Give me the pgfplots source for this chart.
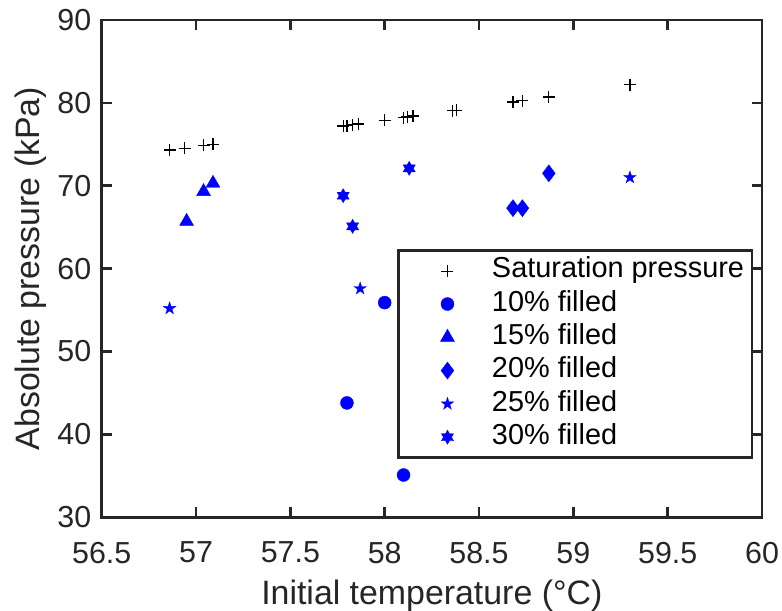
\documentclass[border=0pt]{standalone}
\usepackage{pgfplots}
\pgfplotsset{compat=1.18}
\usepackage{fontspec}
\setmainfont{Liberation Sans}
\definecolor{axgray}{RGB}{38,38,38}
\definecolor{mblue}{RGB}{0,0,255}

\pgfdeclareplotmark{pentagram}{%
  \pgfpathmoveto{\pgfpointpolar{90}{\pgfplotmarksize}}%
  \pgfpathlineto{\pgfpointpolar{126}{0.382\pgfplotmarksize}}%
  \pgfpathlineto{\pgfpointpolar{162}{\pgfplotmarksize}}%
  \pgfpathlineto{\pgfpointpolar{198}{0.382\pgfplotmarksize}}%
  \pgfpathlineto{\pgfpointpolar{234}{\pgfplotmarksize}}%
  \pgfpathlineto{\pgfpointpolar{270}{0.382\pgfplotmarksize}}%
  \pgfpathlineto{\pgfpointpolar{306}{\pgfplotmarksize}}%
  \pgfpathlineto{\pgfpointpolar{342}{0.382\pgfplotmarksize}}%
  \pgfpathlineto{\pgfpointpolar{18}{\pgfplotmarksize}}%
  \pgfpathlineto{\pgfpointpolar{54}{0.382\pgfplotmarksize}}%
  \pgfpathclose
  \pgfusepathqfillstroke
}
\pgfdeclareplotmark{hexagram}{%
  \pgfpathmoveto{\pgfpointpolar{90}{\pgfplotmarksize}}%
  \pgfpathlineto{\pgfpointpolar{120}{0.577\pgfplotmarksize}}%
  \pgfpathlineto{\pgfpointpolar{150}{\pgfplotmarksize}}%
  \pgfpathlineto{\pgfpointpolar{180}{0.577\pgfplotmarksize}}%
  \pgfpathlineto{\pgfpointpolar{210}{\pgfplotmarksize}}%
  \pgfpathlineto{\pgfpointpolar{240}{0.577\pgfplotmarksize}}%
  \pgfpathlineto{\pgfpointpolar{270}{\pgfplotmarksize}}%
  \pgfpathlineto{\pgfpointpolar{300}{0.577\pgfplotmarksize}}%
  \pgfpathlineto{\pgfpointpolar{330}{\pgfplotmarksize}}%
  \pgfpathlineto{\pgfpointpolar{0}{0.577\pgfplotmarksize}}%
  \pgfpathlineto{\pgfpointpolar{30}{\pgfplotmarksize}}%
  \pgfpathlineto{\pgfpointpolar{60}{0.577\pgfplotmarksize}}%
  \pgfpathclose
  \pgfusepathqfillstroke
}

\pgfplotsset{mylegend/.style={legend image code/.code={\path (0bp,-1bp) (82.7bp,1bp); \draw[line width=0.4pt,mark repeat=2,mark phase=2,##1] plot coordinates {(0bp,0bp) (42.5bp,0bp) (82.7bp,0bp)};}}}

\pgfplotstableread{
x y
56.86 74.3
56.94 74.5
57.04 74.9
57.09 75.0
57.78 77.2
57.80 77.25
57.83 77.35
57.86 77.45
58.00 77.9
58.10 78.2
58.12 78.3
58.15 78.4
58.36 79.05
58.38 79.1
58.68 80.1
58.73 80.25
58.87 80.7
59.30 82.2
}\satdata

\begin{document}
\begin{tikzpicture}
\begin{axis}[
  scale only axis,
  width=660.3bp, height=497.3bp,
  xmin=56.5, xmax=60, ymin=30, ymax=90,
  xtick={56.5,57,57.5,58,58.5,59,59.5,60},
  ytick={30,40,50,60,70,80,90},
  tick align=inside,
  major tick length=10bp,
  axis line style={draw=axgray, line width=2.6bp},
  tick style={draw=axgray, line width=2.6bp},
  /pgf/number format/assume math mode=true,
  ticklabel style={font=\fontsize{30.5}{36}\selectfont, text=axgray},
  xticklabel style={/pgf/number format/fixed, /pgf/number format/precision=1, yshift=-21bp},
  yticklabel style={xshift=-7bp},
  label style={font=\fontsize{34}{40}\selectfont, text=axgray},
  xlabel={Initial temperature (°C)},
  ylabel={Absolute pressure (kPa)},
  xlabel style={at={(axis description cs:0.5,-0.1763)}, anchor=base},
  ylabel style={at={(axis description cs:-0.1078,0.5)}, anchor=center, rotate=0},
  legend style={at={(0.987,0.539)}, anchor=north east, draw=axgray, line width=2.6bp,
    fill=white, font=\fontsize{29}{33}\selectfont, inner xsep=5bp, inner ysep=3.5bp,
    nodes={text height=20.5bp, text depth=6bp, inner ysep=3.4bp, inner xsep=3bp},
    row sep=0pt},
  legend cell align=left,
]
\coordinate (bl) at (rel axis cs:0,0);
\addplot[only marks, mylegend, mark=+, mark size=6bp, black, line width=1.3bp] table {\satdata};
\addlegendentry{Saturation pressure}
\addplot[only marks, mylegend, mark=*, mark size=6.5bp, draw=mblue, fill=mblue] coordinates {(57.80,43.8) (58.00,55.9) (58.10,35.1)};
\addlegendentry{10\% filled}
\addplot[only marks, mylegend, mark=triangle*, mark size=8bp, draw=mblue, fill=mblue] coordinates {(56.95,65.7) (57.04,69.3) (57.09,70.3)};
\addlegendentry{15\% filled}
\addplot[only marks, mylegend, mark=diamond*, mark size=8.5bp, draw=mblue, fill=mblue] coordinates {(58.68,67.3) (58.73,67.3) (58.87,71.5)};
\addlegendentry{20\% filled}
\addplot[only marks, mylegend, mark=pentagram, mark size=6.5bp, draw=mblue, fill=mblue] coordinates {(56.86,55.2) (57.87,57.6) (59.30,71.0)};
\addlegendentry{25\% filled}
\addplot[only marks, mylegend, mark=hexagram, mark size=7bp, draw=mblue, fill=mblue] coordinates {(57.78,68.8) (57.83,65.1) (58.13,72.1)};
\addlegendentry{30\% filled}
\end{axis}
\pgfresetboundingbox
\path (bl) ++(-101.7bp,-93.7bp) rectangle ++(782bp,611bp);
\end{tikzpicture}
\end{document}
